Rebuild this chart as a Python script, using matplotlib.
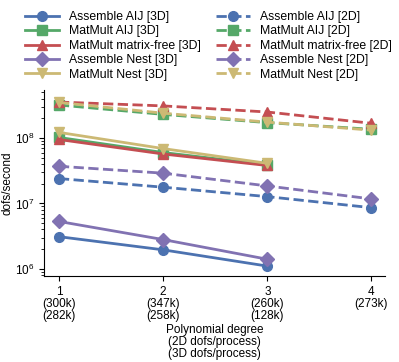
import matplotlib
matplotlib.use("Agg")
import matplotlib.pyplot as plt

plt.rcParams['font.family'] = ['Liberation Sans', 'DejaVu Sans']
plt.rcParams['font.size'] = 8.5

degrees_3d = [1, 2, 3]
degrees_2d = [1, 2, 3, 4]
tick_labels = ["1\n(300k)\n(282k)", "2\n(347k)\n(258k)", "3\n(260k)\n(128k)", "4\n(273k)"]

# 3D series
assemble_aij_3d = [3.1e6, 1.95e6, 1.1e6]
matmult_aij_3d = [1.02e8, 6.0e7, 3.9e7]
matmult_free_3d = [9.5e7, 5.7e7, 3.8e7]
assemble_nest_3d = [5.3e6, 2.8e6, 1.4e6]
matmult_nest_3d = [1.22e8, 6.9e7, 4.1e7]

# 2D series
assemble_aij_2d = [2.4e7, 1.77e7, 1.27e7, 8.6e6]
matmult_aij_2d = [3.2e8, 2.3e8, 1.72e8, 1.36e8]
matmult_free_2d = [3.55e8, 3.1e8, 2.5e8, 1.68e8]
assemble_nest_2d = [3.7e7, 2.9e7, 1.85e7, 1.17e7]
matmult_nest_2d = [3.5e8, 2.4e8, 1.75e8, 1.32e8]

colors = ['#4C72B0', '#55A868', '#C44E52', '#8172B2', '#CCB974']
markers = ['o', 's', '^', 'D', 'v']
names = ['Assemble AIJ', 'MatMult AIJ', 'MatMult matrix-free', 'Assemble Nest', 'MatMult Nest']
series_3d = [assemble_aij_3d, matmult_aij_3d, matmult_free_3d, assemble_nest_3d, matmult_nest_3d]
series_2d = [assemble_aij_2d, matmult_aij_2d, matmult_free_2d, assemble_nest_2d, matmult_nest_2d]

fig = plt.figure(figsize=(3.99, 3.62), dpi=100)
ax = fig.add_axes([0.11, 0.238, 0.855, 0.513])

for i in range(5):
    ax.plot(degrees_3d, series_3d[i], color=colors[i], marker=markers[i], markersize=7,
            linewidth=2, linestyle='-', label=names[i] + ' [3D]')
for i in range(5):
    ax.plot(degrees_2d, series_2d[i], color=colors[i], marker=markers[i], markersize=7,
            linewidth=2, linestyle=(0, (3.7, 1.6)), label=names[i] + ' [2D]')

ax.set_yscale('log')
ax.set_ylim(7.8e5, 5.4e8)
ax.set_xlim(0.856, 4.13)
ax.set_xticks(degrees_2d)
ax.set_xticklabels(tick_labels, linespacing=1.0)
ax.set_ylabel('dofs/second', labelpad=1)
ax.set_xlabel('Polynomial degree\n(2D dofs/process)\n(3D dofs/process)', linespacing=1.0, labelpad=2)
ax.spines['top'].set_visible(False)
ax.spines['right'].set_visible(False)
ax.tick_params(direction='out', labelsize=8.5)

fig.legend(loc='upper left', bbox_to_anchor=(0.035, 1.0), ncol=2, frameon=False,
           handlelength=2.8, columnspacing=1.2, labelspacing=0.2, fontsize=8.8)

plt.savefig('out.png', dpi=100)
